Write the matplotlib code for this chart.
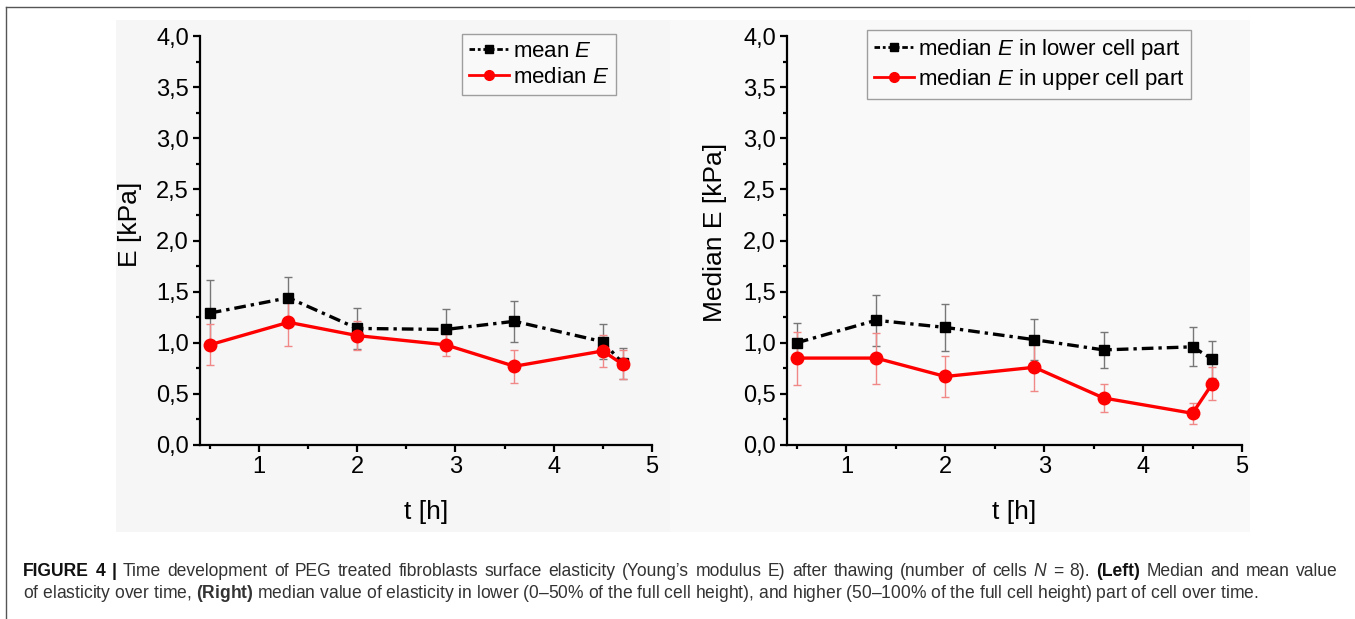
import matplotlib
matplotlib.use("Agg")
import matplotlib.pyplot as plt
from matplotlib.patches import Rectangle
from matplotlib.lines import Line2D
from matplotlib.ticker import MultipleLocator, FuncFormatter

# data
t = [0.5, 1.3, 2.0, 2.9, 3.6, 4.5, 4.7]

mean_E = [1.29, 1.44, 1.14, 1.13, 1.21, 1.01, 0.80]
mean_E_err = [0.32, 0.20, 0.20, 0.20, 0.20, 0.17, 0.15]
median_E = [0.98, 1.20, 1.07, 0.98, 0.77, 0.92, 0.79]
median_E_err = [0.20, 0.23, 0.14, 0.11, 0.16, 0.16, 0.14]

lower_E = [1.00, 1.22, 1.15, 1.03, 0.93, 0.96, 0.84]
lower_E_err = [0.19, 0.25, 0.23, 0.20, 0.18, 0.19, 0.18]
upper_E = [0.85, 0.85, 0.67, 0.76, 0.46, 0.31, 0.60]
upper_E_err = [0.26, 0.25, 0.20, 0.23, 0.14, 0.10, 0.16]

font = "Liberation Sans"
plt.rcParams["font.family"] = [font, "DejaVu Sans"]
plt.rcParams["mathtext.fontset"] = "custom"
plt.rcParams["mathtext.rm"] = font
plt.rcParams["mathtext.it"] = font + ":italic"
plt.rcParams["mathtext.bf"] = font + ":bold"

W, H = 1355, 619
fig = plt.figure(figsize=(W / 100, H / 100), dpi=100)

# page background and frame
bg = fig.add_axes([0, 0, 1, 1], zorder=-5)
bg.set_xlim(0, W)
bg.set_ylim(H, 0)
bg.axis("off")
bg.add_patch(Rectangle((116, 20), 554, 512, color="#f6f6f6", lw=0))
bg.add_patch(Rectangle((670, 20), 580, 512, color="#f9f9f9", lw=0))
bg.plot([6, W], [7, 7], color="#555555", lw=1)
bg.plot([6, 6], [7, H], color="#555555", lw=1)

# caption: first line justified word by word, second line as one string
cap1_words = [("FIGURE", "b"), ("4", "b"), ("|", "b")] + \
    [(w, "n") for w in "Time development of PEG treated fibroblasts surface elasticity "
     "(Young’s modulus E) after thawing (number of cells".split()] + \
    [("N", "i"), ("=", "n"), ("8).", "n"), ("(Left)", "b")] + \
    [(w, "n") for w in "Median and mean value".split()]
cap1_full = (r"$\mathbf{FIGURE\ 4\ |}$ Time development of PEG treated fibroblasts surface "
             r"elasticity (Young’s modulus E) after thawing (number of cells $\mathit{N}$ = 8). "
             r"$\mathbf{(Left)}$ Median and mean value")
cap2 = (r"of elasticity over time, $\mathbf{(Right)}$ median value of elasticity in lower "
        r"(0–50% of the full cell height), and higher (50–100% of the full cell height) "
        r"part of cell over time.")

probe = bg.text(23, 571, cap1_full, fontsize=12, va="center")
line2 = bg.text(23, 594, cap2, fontsize=12, va="center", color="#333333")
fig.canvas.draw()
r = fig.canvas.get_renderer()
size = 12 * 1280 / probe.get_window_extent(r).width
probe.remove()
line2.set_fontsize(size)

line1 = []
for w, s in cap1_words:
    line1.append(bg.text(0, 571, w, fontsize=size, va="center",
                         fontweight="bold" if s == "b" else "normal",
                         fontstyle="italic" if s == "i" else "normal",
                         color="#111111" if s == "b" else "#333333"))
ws = [tx.get_window_extent(r).width for tx in line1]
gap = (1315 - sum(ws)) / (len(ws) - 1)
x = 23
for tx, w in zip(line1, ws):
    tx.set_x(x)
    x += w + gap


def style_axes(ax, ylabel, ylab_x, ylab_y):
    ax.set_facecolor("none")
    ax.set_xlim(0.4, 5.0)
    ax.set_ylim(0, 4.0)
    for s in ["top", "right"]:
        ax.spines[s].set_visible(False)
    for s in ["left", "bottom"]:
        ax.spines[s].set_linewidth(1.6)
    ax.xaxis.set_major_locator(MultipleLocator(1))
    ax.xaxis.set_minor_locator(MultipleLocator(0.5))
    ax.yaxis.set_major_locator(MultipleLocator(0.5))
    ax.yaxis.set_minor_locator(MultipleLocator(0.25))
    ax.yaxis.set_major_formatter(FuncFormatter(lambda v, p: f"{v:.1f}".replace(".", ",")))
    ax.tick_params(which="major", length=5, width=1.6, labelsize=17, pad=3)
    ax.tick_params(which="minor", length=3, width=1.6)
    ax.set_xlabel("t [h]", fontsize=19)
    ax.set_ylabel(ylabel, fontsize=19)
    ax.xaxis.set_label_coords(0.5, -0.135)
    ax.yaxis.set_label_coords(ylab_x, ylab_y)


def draw_pair(ax, y1, e1, y2, e2, lab1, lab2, anchor):
    ax.errorbar(t, y1, yerr=e1, fmt="none", ecolor="#777777", elinewidth=1,
                capsize=3, capthick=1, zorder=2)
    ax.errorbar(t, y2, yerr=e2, fmt="none", ecolor="#f08888", elinewidth=1,
                capsize=3, capthick=1, zorder=2)
    ax.plot(t, y1, color="black", lw=2.4, ls=(0, (3.5, 1.5, 1, 1.5)),
            marker="s", ms=7, zorder=3)
    ax.plot(t, y2, color="red", lw=2.4, ls="-", marker="o", ms=9, zorder=4)
    h1 = Line2D([], [], color="black", lw=2, ls=(0, (2, 1, 1, 1)), marker="s", ms=6)
    h2 = Line2D([], [], color="red", lw=2, marker="o", ms=7)
    leg = ax.legend([h1, h2], [lab1, lab2], loc="upper left", bbox_to_anchor=anchor,
                    fontsize=16, frameon=True, fancybox=False, handlelength=1.8,
                    handletextpad=0.2, borderpad=0.3, labelspacing=0.25,
                    borderaxespad=0, numpoints=1)
    leg.get_frame().set_edgecolor("#888888")
    leg.get_frame().set_facecolor("#fafafa")
    leg.get_frame().set_linewidth(1)


ax1 = fig.add_axes([200 / W, 1 - 445 / H, 452 / W, 409 / H])
style_axes(ax1, "E [kPa]", -0.128, 0.54)
draw_pair(ax1, mean_E, mean_E_err, median_E, median_E_err,
          r"mean $\mathit{E}$", r"median $\mathit{E}$", (0.58, 1.005))

ax2 = fig.add_axes([787 / W, 1 - 445 / H, 455 / W, 409 / H])
style_axes(ax2, "Median E [kPa]", -0.132, 0.52)
draw_pair(ax2, lower_E, lower_E_err, upper_E, upper_E_err,
          r"median $\mathit{E}$ in lower cell part", r"median $\mathit{E}$ in upper cell part",
          (0.176, 1.015))

fig.savefig("out.png", dpi=100)
